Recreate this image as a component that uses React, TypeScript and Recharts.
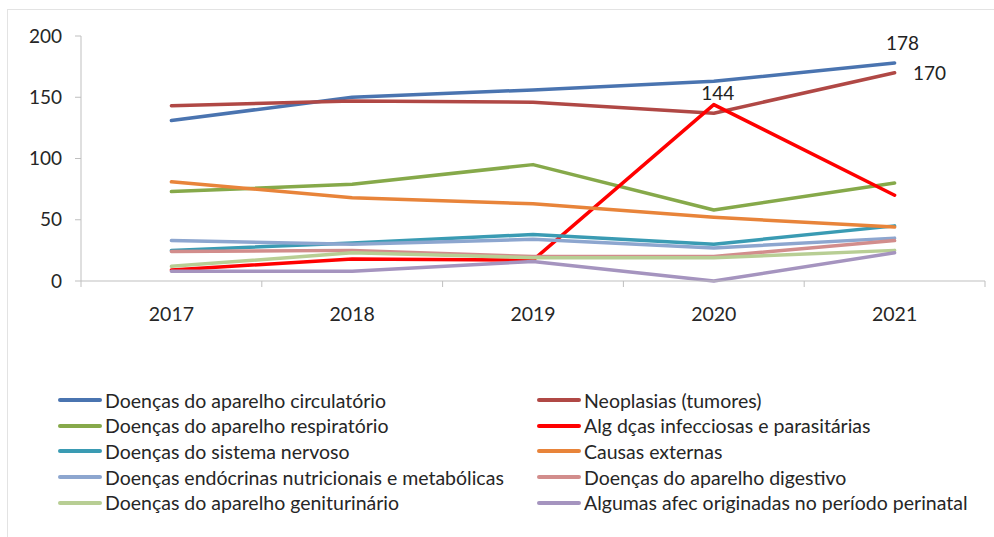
import React from "react"
import { LineChart, Line, XAxis, YAxis, LabelList } from "recharts"

const years = ["2017", "2018", "2019", "2020", "2021"]
const yTicks = [0, 50, 100, 150, 200]

const circulatorio = [131, 150, 156, 163, 178]
const neoplasias = [143, 147, 146, 137, 170]
const respiratorio = [73, 79, 95, 58, 80]
const infecciosas = [9, 18, 17, 144, 70]
const nervoso = [25, 31, 38, 30, 45]
const externas = [81, 68, 63, 52, 44]
const endocrinas = [33, 30, 34, 27, 35]
const digestivo = [24, 25, 20, 20, 33]
const geniturinario = [12, 23, 19, 19, 25]
const perinatal = [8, 8, 16, 0, 23]

// which points carry a value label
const labelled: Record<string, number[]> = {
  circulatorio: [4],
  neoplasias: [4],
  infecciosas: [3],
}

const series = [
  { key: "circulatorio", name: "Doenças do aparelho circulatório", color: "#4A74B0", values: circulatorio },
  { key: "neoplasias", name: "Neoplasias (tumores)", color: "#B04845", values: neoplasias },
  { key: "respiratorio", name: "Doenças do aparelho respiratório", color: "#86A94A", values: respiratorio },
  { key: "infecciosas", name: "Alg dças infecciosas e parasitárias", color: "#FF0000", values: infecciosas },
  { key: "nervoso", name: "Doenças do sistema nervoso", color: "#3A9BB3", values: nervoso },
  { key: "externas", name: "Causas externas", color: "#E8843A", values: externas },
  { key: "endocrinas", name: "Doenças endócrinas nutricionais e metabólicas", color: "#8DA6CF", values: endocrinas },
  { key: "digestivo", name: "Doenças do aparelho digestivo", color: "#D28D8C", values: digestivo },
  { key: "geniturinario", name: "Doenças do aparelho geniturinário", color: "#B8CE94", values: geniturinario },
  { key: "perinatal", name: "Algumas afec originadas no período perinatal", color: "#A594BF", values: perinatal },
]

const data = years.map((year, i) => {
  const row: Record<string, any> = { year }
  series.forEach((s) => {
    row[s.key] = s.values[i]
  })
  return row
})

const FONT = "Lato, 'Open Sans', sans-serif"
const W = 994
const H = 537
const Y_AXIS_W = 81
const RIGHT = 9
const halfBand = (W - Y_AXIS_W - RIGHT) / years.length / 2
const TICK_SIZE = 6
const TICK_MARGIN = 14

const labelOffsets: Record<string, [number, number]> = {
  circulatorio: [8, -13],
  neoplasias: [35, 7],
  infecciosas: [4, -5],
}

const makeLabel = (key: string) => (props: any) => {
  const { x, y, value, index } = props
  if (!labelled[key].includes(index)) return null
  const [dx, dy] = labelOffsets[key]
  return (
    <text x={x + dx} y={y + dy} textAnchor="middle" fill="#222" fontSize={19} fontFamily={FONT}>
      {value}
    </text>
  )
}

// year label + Excel style tick marks between categories
const YearTick = (props: any) => {
  const { x, y, payload, index } = props
  const axisY = y - TICK_MARGIN - TICK_SIZE
  const last = index === years.length - 1
  return (
    <g>
      <line x1={x - halfBand} x2={x - halfBand} y1={axisY} y2={axisY + TICK_SIZE} stroke="#bfbfbf" />
      {last && <line x1={x + halfBand} x2={x + halfBand} y1={axisY} y2={axisY + TICK_SIZE} stroke="#bfbfbf" />}
      <text x={x} y={y} dy={20} textAnchor="middle" fill="#262626" fontSize={19.5} fontFamily={FONT}>
        {payload.value}
      </text>
    </g>
  )
}

export default function App() {
  return (
    <div style={{ position: "absolute", left: 0, top: 0, width: W, height: H, background: "#fff", fontFamily: FONT }}>
      <div
        style={{
          position: "absolute",
          left: 7,
          top: 9,
          width: W,
          height: H,
          border: "1px solid #e3e3e3",
          boxSizing: "border-box",
        }}
      />
      <LineChart
        width={W}
        height={H}
        data={data}
        margin={{ top: 36, right: RIGHT, left: 0, bottom: 226 }}
        style={{ position: "absolute", left: 0, top: 0 }}
      >
        <XAxis
          dataKey="year"
          stroke="#bfbfbf"
          tickLine={false}
          tickSize={TICK_SIZE}
          tickMargin={TICK_MARGIN}
          padding={{ left: halfBand, right: halfBand }}
          height={30}
          tick={<YearTick />}
        />
        <YAxis
          domain={[0, 200]}
          ticks={yTicks}
          width={Y_AXIS_W}
          stroke="#bfbfbf"
          tickSize={TICK_SIZE}
          tickMargin={13}
          tick={{ fill: "#262626", fontSize: 19, fontFamily: FONT }}
        />
        {series.map((s) => (
          <Line
            key={s.key}
            dataKey={s.key}
            name={s.name}
            stroke={s.color}
            strokeWidth={3.5}
            dot={false}
            activeDot={false}
            isAnimationActive={false}
            strokeLinecap="round"
            strokeLinejoin="round"
          >
            {labelled[s.key] && <LabelList dataKey={s.key} content={makeLabel(s.key) as any} />}
          </Line>
        ))}
      </LineChart>
      <div style={{ position: "absolute", left: 0, top: 388 }}>
        {series.map((s, i) => (
          <div
            key={s.key}
            style={{
              position: "absolute",
              left: i % 2 === 0 ? 58 : 537,
              top: Math.floor(i / 2) * 25.7,
              display: "flex",
              alignItems: "center",
              whiteSpace: "nowrap",
              height: 24,
            }}
          >
            <span
              style={{
                display: "inline-block",
                width: 44,
                height: 4,
                borderRadius: 2,
                background: s.color,
                marginRight: 3,
              }}
            />
            <span style={{ fontSize: 19.5, color: "#262626" }}>{s.name}</span>
          </div>
        ))}
      </div>
    </div>
  )
}
